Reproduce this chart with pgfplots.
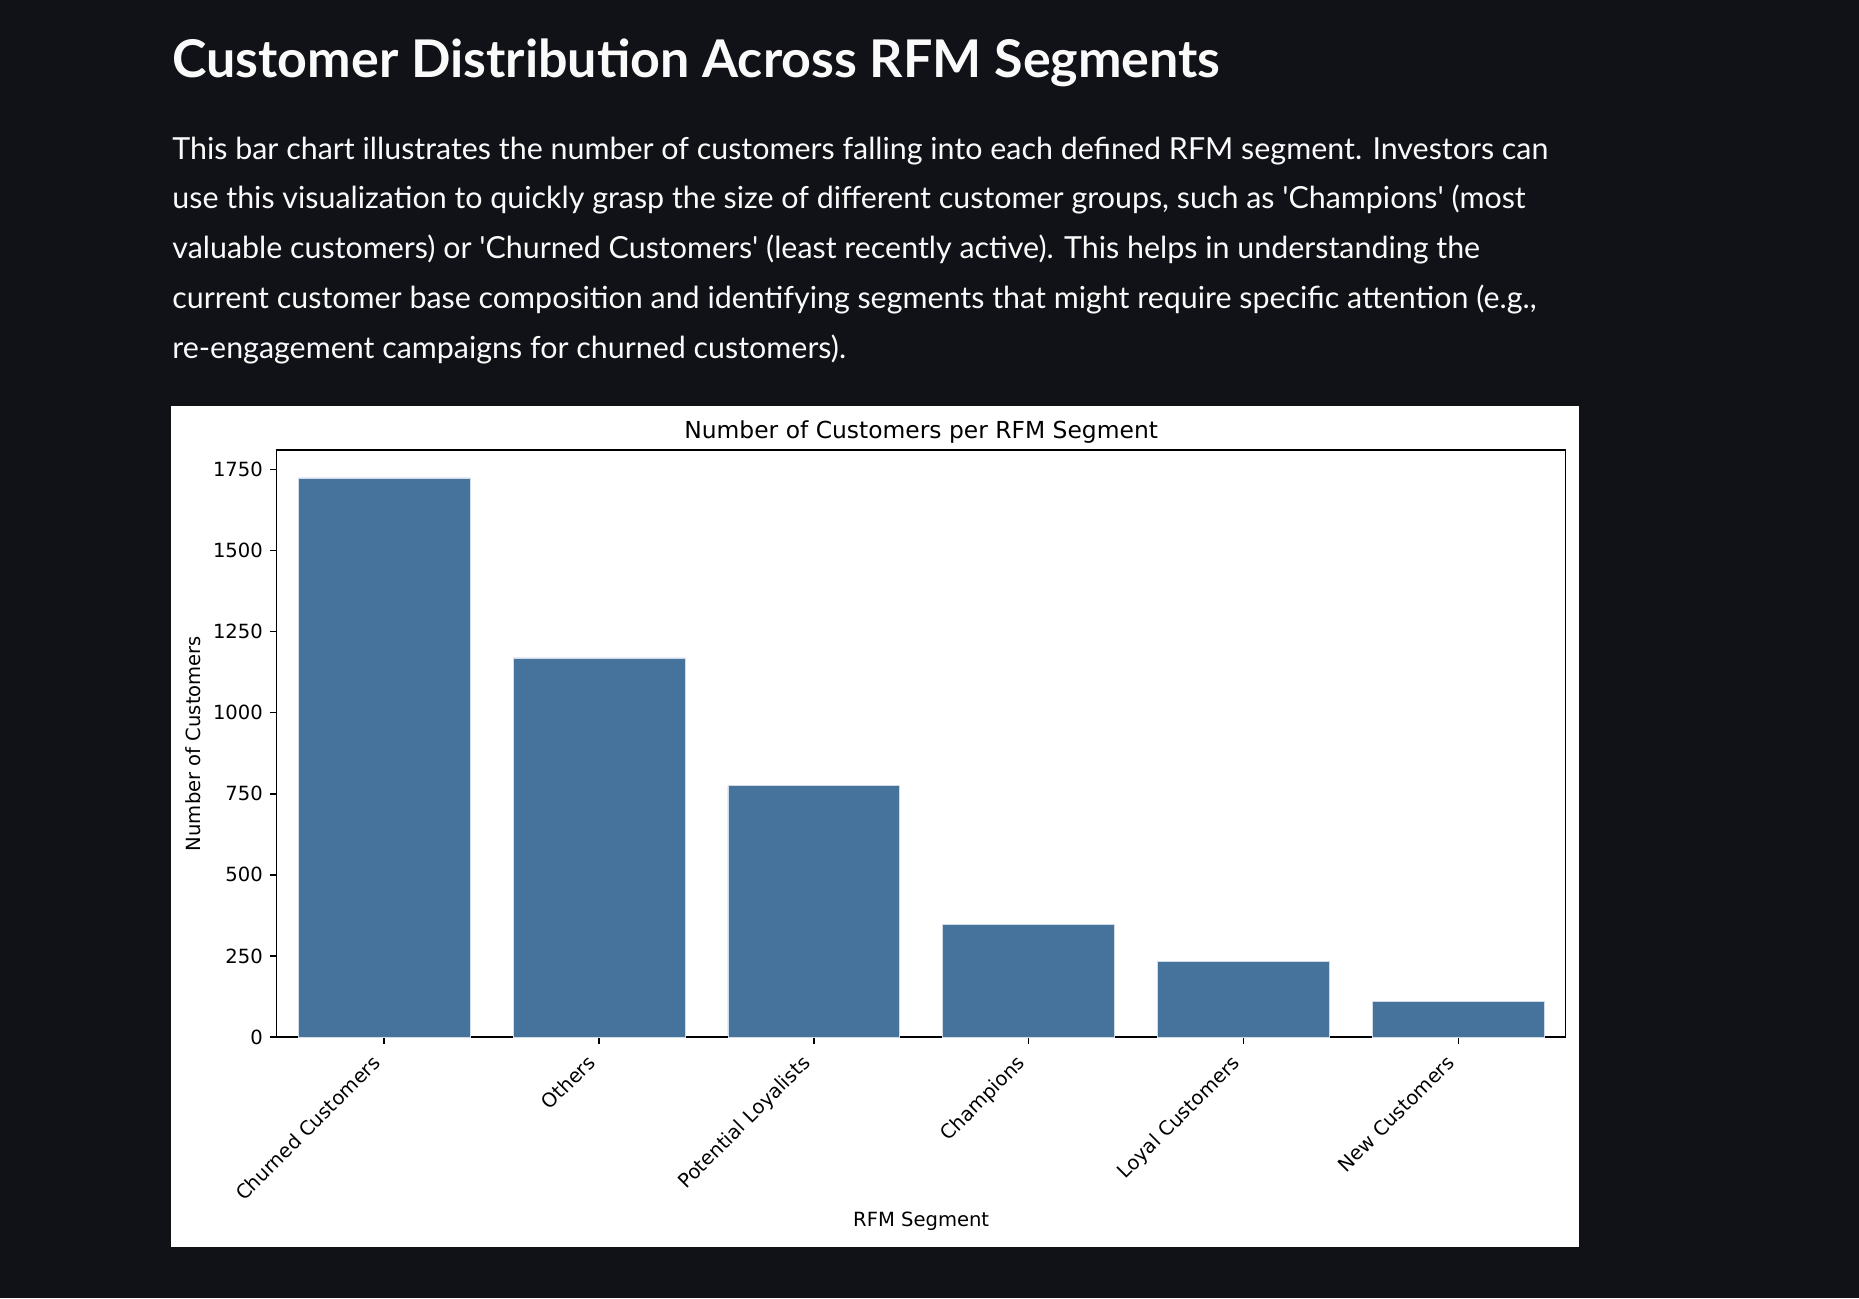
\documentclass[border=0pt]{standalone}
\usepackage{pgfplots}
\pgfplotsset{compat=1.18}
\usepackage{fontspec}
\setmainfont{Lato}
\newfontfamily\dejavu{DejaVu Sans}
\definecolor{pageBg}{HTML}{111217}
\definecolor{pageText}{HTML}{FAFAFA}
\definecolor{barBlue}{HTML}{46739C}

\begin{document}
\begin{tikzpicture}
% page background and the white figure card (1px = 0.5pt)
\fill[pageBg] (0,0) rectangle (929.5pt,-649pt);
\fill[white] (85.5pt,-203.2pt) rectangle (789.5pt,-623.6pt);

% heading and paragraph
\node[anchor=base west, inner sep=0pt, text=pageText, font=\bfseries\fontsize{26}{30}\selectfont]
  at (86pt,-38.5pt) {Customer Distribution Across RFM Segments};
\begin{scope}[every node/.style={anchor=base west, inner sep=0pt, text=pageText, font=\fontsize{15.2}{18}\selectfont}]
\node at (86pt,-79.5pt)  {This bar chart illustrates the number of customers falling into each defined RFM segment. Investors can};
\node at (86pt,-104.4pt) {use this visualization to quickly grasp the size of different customer groups, such as \textquotesingle Champions\textquotesingle{} (most};
\node at (86pt,-129.3pt) {valuable customers) or \textquotesingle Churned Customers\textquotesingle{} (least recently active). This helps in understanding the};
\node at (86pt,-154.2pt) {current customer base composition and identifying segments that might require specific attention (e.g.,};
\node at (86pt,-179.1pt) {re-engagement campaigns for churned customers).};
\end{scope}

\begin{axis}[
  at={(138.35pt,-518.5pt)}, anchor=south west,
  width=644.5pt, height=293.5pt, scale only axis,
  xmin=-0.5, xmax=5.5, ymin=0, ymax=1810,
  ybar, bar width=0.8,
  axis background/.style={fill=white},
  axis line style={line width=0.78pt, black},
  tick style={line width=0.78pt, black},
  tick align=outside, tick pos=left,
  major tick length=3.42pt,
  xtick={0,1,2,3,4,5},
  xticklabels={Churned Customers, Others, Potential Loyalists, Champions, Loyal Customers, New Customers},
  ytick={0,250,...,1750},
  scaled y ticks=false,
  /pgf/number format/1000 sep={},
  /pgf/number format/assume math mode=true,
  tick label style={font=\dejavu\fontsize{9.78}{11}\selectfont, text=black},
  xticklabel style={xshift=-6.5pt, rotate=45, anchor=north east},
  title={Number of Customers per RFM Segment},
  title style={font=\dejavu\fontsize{11.7}{14}\selectfont, at={(axis description cs:0.5,1)}, anchor=base, yshift=0pt},
  xlabel={RFM Segment},
  ylabel={Number of Customers},
  label style={font=\dejavu\fontsize{9.78}{11}\selectfont},
  xlabel style={at={(axis description cs:0.5,-0.3135)}, anchor=center},
  ylabel style={at={(axis description cs:-0.0649,0.5)}, anchor=center},
]
\addplot[fill=barBlue, draw=white!75!barBlue, line width=0.3pt]
  coordinates {(0,1724) (1,1169) (2,776) (3,348) (4,232) (5,110)};
\end{axis}
\end{tikzpicture}
\end{document}
